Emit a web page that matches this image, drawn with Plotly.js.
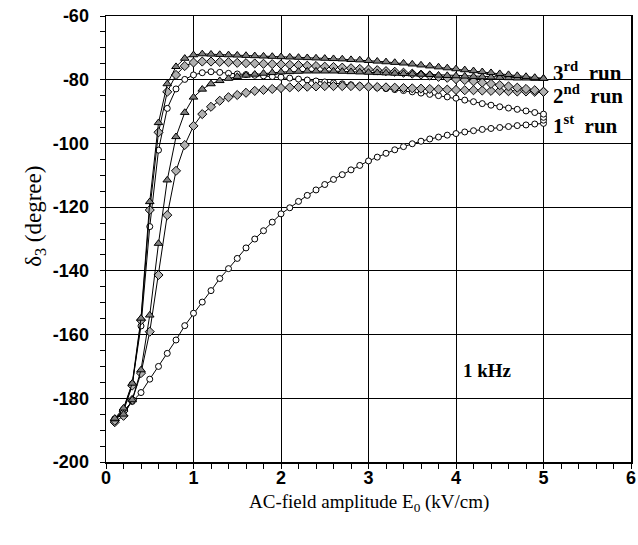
<!DOCTYPE html>
<html>
<head>
<meta charset="utf-8">
<script src="https://cdn.plot.ly/plotly-3.0.1.min.js"></script>
<style>html,body{margin:0;padding:0;background:#fff;}#chart{width:638px;height:545px;}</style>
</head>
<body>
<div id="chart"></div>
<script>
// Field values (kV/cm)
const xUp = [0.1,0.2,0.3,0.4,0.5,0.6,0.7,0.8,0.9,1.0,1.1,1.2,1.3,1.4,1.5,1.6,1.7,1.8,1.9,2.0,
  2.1,2.2,2.3,2.4,2.5,2.6,2.7,2.8,2.9,3.0,3.1,3.2,3.3,3.4,3.5,3.6,3.7,3.8,3.9,4.0,
  4.1,4.2,4.3,4.4,4.5,4.6,4.7,4.8,4.9,5.0];
const xDown = xUp.slice().reverse();

// 1st run (open circles)
const run1Up = [-186.5,-184.0,-181.0,-178.2,-174.0,-170.0,-165.9,-161.7,-157.2,-153.3,-149.8,-146.2,-142.4,-139.3,-136.1,-132.8,-130.0,-127.4,-124.7,-122.1,
  -120.2,-118.2,-116.3,-114.6,-112.9,-111.3,-109.8,-108.3,-106.9,-105.5,-104.3,-103.1,-102.0,-101.0,-100.1,-99.3,-98.6,-98.0,-97.4,-96.9,
  -96.4,-96.0,-95.6,-95.3,-95.0,-94.7,-94.4,-94.2,-93.9,-93.7];
const run1DownX = [5.0,5.0,5.0].concat(xDown.slice(1));
const run1Down = [-92.7,-91.8,-90.8,
  -90.3,-89.8,-89.3,-88.9,-88.5,-88.0,-87.5,-86.9,-86.4,-85.8,-85.4,-85.0,-84.6,-84.2,-83.8,-83.4,-83.1,-82.8,-82.5,-82.2,
  -81.9,-81.6,-81.3,-81.0,-80.7,-80.4,-80.1,-79.8,-79.5,-79.2,-79.0,-78.8,-78.6,-78.4,-78.2,-78.0,-77.7,-77.5,-77.8,-78.5,
  -79.9,-82.9,-89.0,-102.1,-126.1,-157.3,-175.5,-183.5,-186.5];

// 2nd run (grey diamonds)
const run2Up = [-187.5,-185.5,-180.5,-172.1,-159.1,-141.3,-122.5,-108.6,-100.5,-94.5,-90.8,-88.5,-86.6,-85.5,-84.8,-84.1,-83.5,-83.2,-82.9,-82.6,
  -82.4,-82.3,-82.2,-82.1,-82.0,-82.0,-82.0,-82.0,-82.1,-82.2,-82.3,-82.4,-82.5,-82.6,-82.7,-82.8,-82.9,-83.0,-83.1,-83.2,
  -83.3,-83.3,-83.4,-83.5,-83.5,-83.6,-83.7,-83.7,-83.8,-83.8];
const run2Down = [-83.8,-83.3,-82.9,-82.5,-82.1,-81.7,-81.3,-80.9,-80.5,-80.1,-79.8,-79.4,-79.1,-78.7,-78.4,-78.1,-77.8,-77.5,-77.3,-77.0,
  -76.8,-76.6,-76.4,-76.2,-76.0,-75.9,-75.7,-75.6,-75.4,-75.3,-75.2,-75.1,-75.0,-74.9,-74.8,-74.7,-74.5,-74.4,-74.3,-74.3,
  -74.6,-75.7,-78.5,-83.8,-96.5,-120.9,-155.5,-176.0,-184.0,-187.0];

// 3rd run (grey triangles)
const run3Up = [-186.5,-185.0,-180.5,-171.1,-153.9,-131.4,-111.5,-97.9,-90.3,-85.5,-83.0,-81.3,-80.3,-79.6,-79.0,-78.6,-78.3,-78.0,-77.8,-77.6,
  -77.5,-77.4,-77.3,-77.3,-77.3,-77.3,-77.4,-77.5,-77.6,-77.7,-77.8,-77.9,-78.0,-78.1,-78.2,-78.3,-78.4,-78.6,-78.7,-78.8,
  -78.9,-79.0,-79.1,-79.2,-79.3,-79.4,-79.5,-79.5,-79.6,-79.6];
const run3Down = [-79.6,-79.3,-79.0,-78.7,-78.4,-78.1,-77.8,-77.5,-77.2,-76.9,-76.6,-76.3,-76.0,-75.7,-75.4,-75.1,-74.8,-74.6,-74.4,-74.2,
  -74.0,-73.8,-73.7,-73.5,-73.4,-73.3,-73.2,-73.1,-73.0,-72.9,-72.8,-72.7,-72.6,-72.5,-72.4,-72.3,-72.2,-72.1,-72.0,-71.9,
  -72.2,-73.3,-75.9,-81.3,-93.5,-118.3,-154.9,-175.3,-183.1,-186.3];

const xTicks = [0,1,2,3,4,5,6];
const xTickText = ['0','1','2','3','4','5','6'];
const yTicks = [-200,-180,-160,-140,-120,-100,-80,-60];
const yTickText = ['-200','-180','-160','-140','-120','-100','-80','-60'];
const runLabels = ['3<sup>rd</sup>  run','2<sup>nd</sup>  run','1<sup>st</sup>  run'];
const runLabelY = [-77.4,-84.6,-94.1];

const line = {color:'#000', width:1};
const circ = {symbol:'circle', size:6, color:'#fff', line:{color:'#000', width:1}};
const diam = {symbol:'diamond', size:7, color:'#b0b0b0', line:{color:'#000', width:1}};
const tri = {symbol:'triangle-up', size:7.5, color:'#808080', line:{color:'#000', width:1}};

const traces = [
  {x:xUp, y:run1Up, mode:'lines+markers', line:line, marker:circ},
  {x:run1DownX, y:run1Down, mode:'lines+markers', line:line, marker:circ},
  {x:xUp, y:run2Up, mode:'lines+markers', line:line, marker:diam},
  {x:xDown, y:run2Down, mode:'lines+markers', line:line, marker:diam},
  {x:xUp, y:run3Up, mode:'lines+markers', line:line, marker:tri},
  {x:xDown, y:run3Down, mode:'lines+markers', line:line, marker:tri}
];

const tickFont = {family:'Liberation Sans, Arial, sans-serif', size:18, color:'#000', weight:'bold'};
const serif = 'Liberation Serif, Times New Roman, serif';

const annotations = runLabels.map((t,i)=>({
  x:5.08, y:runLabelY[i], xref:'x', yref:'y', text:'<b>'+t.replace('  ',' &nbsp;')+'</b>', showarrow:false,
  xanchor:'left', yanchor:'middle', font:{family:serif, size:21, color:'#000'}
}));
annotations.push({x:4.06, y:-171.4, xref:'x', yref:'y', text:'<b>1 kHz</b>', showarrow:false,
  xanchor:'left', yanchor:'middle', font:{family:serif, size:19, color:'#000'}});
annotations.push({x:-0.135, y:0.55, xref:'paper', yref:'paper', text:'δ<sub>3</sub> (degree)', showarrow:false,
  textangle:-90, xanchor:'center', yanchor:'middle', font:{family:serif, size:23, color:'#000'}});
annotations.push({x:0.5, y:-0.092, xref:'paper', yref:'paper', text:'AC-field amplitude E<sub>0</sub> (kV/cm)', showarrow:false,
  xanchor:'center', yanchor:'middle', font:{family:serif, size:19, color:'#000'}});

const layout = {
  width:638, height:545,
  margin:{l:106, r:7, t:16, b:83},
  paper_bgcolor:'#fff', plot_bgcolor:'#fff',
  showlegend:false,
  xaxis:{
    range:[0,6], tickmode:'array', tickvals:xTicks, ticktext:xTickText, ticks:'outside', ticklen:5, tickwidth:1, tickcolor:'#000',
    showgrid:true, gridcolor:'#000', gridwidth:1, zeroline:false,
    showline:true, linecolor:'#000', linewidth:1.5, mirror:true,
    minor:{dtick:0.2, ticks:'outside', ticklen:5, tickcolor:'#000', showgrid:false},
    tickfont:tickFont, ticklabelstandoff:-6
  },
  yaxis:{
    range:[-200,-60], tickmode:'array', tickvals:yTicks, ticktext:yTickText, ticks:'outside', ticklen:5, tickwidth:1, tickcolor:'#000',
    showgrid:true, gridcolor:'#000', gridwidth:1, zeroline:false,
    showline:true, linecolor:'#000', linewidth:1.5, mirror:true,
    minor:{dtick:5, ticks:'outside', ticklen:5, tickcolor:'#000', showgrid:false},
    tickfont:tickFont, ticklabelstandoff:7
  },
  annotations:annotations
};

Plotly.newPlot('chart', traces, layout, {displayModeBar:false, staticPlot:true});
</script>
</body>
</html>
